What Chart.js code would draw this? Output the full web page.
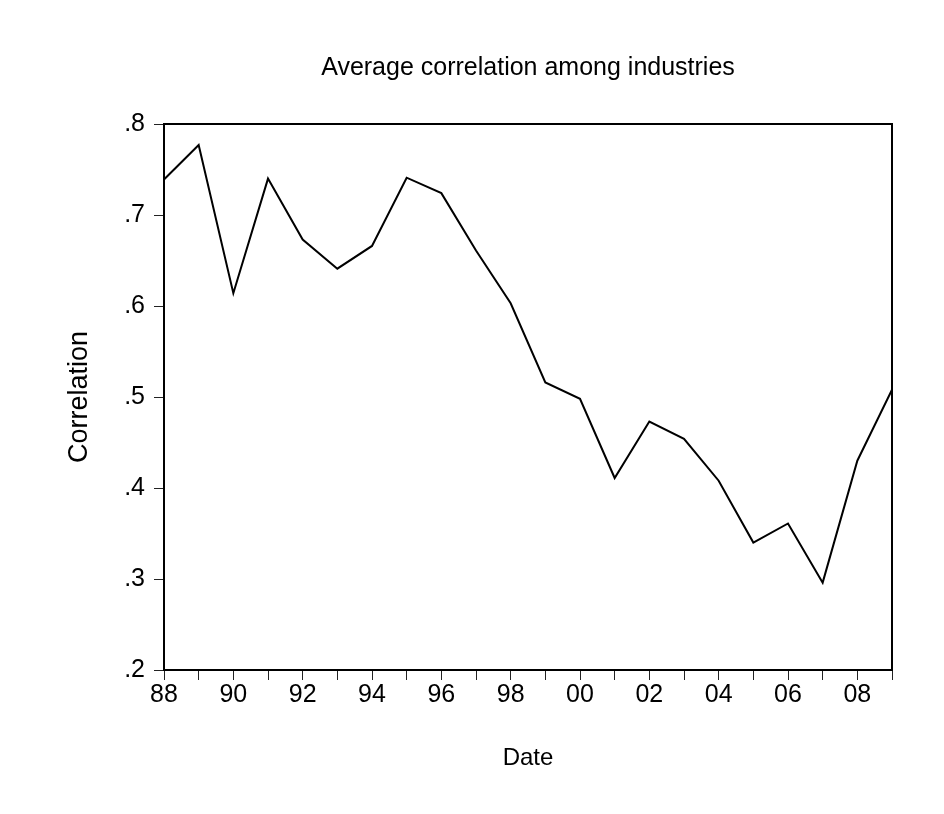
<!DOCTYPE html>
<html>
<head>
<meta charset="utf-8">
<title>Average correlation among industries</title>
<script src="https://cdn.jsdelivr.net/npm/chart.js@4.4.1/dist/chart.umd.min.js"></script>
<style>
  html, body { margin: 0; padding: 0; background: #fff; }
  #wrap { width: 944px; height: 814px; }
</style>
</head>
<body>
<div id="wrap"><canvas id="chart" width="944" height="814"></canvas></div>
<script>
// Yearly average correlation among industries, 1988-2009
const years = [1988, 1989, 1990, 1991, 1992, 1993, 1994, 1995, 1996, 1997, 1998,
               1999, 2000, 2001, 2002, 2003, 2004, 2005, 2006, 2007, 2008, 2009];
const correlation = [0.739, 0.777, 0.614, 0.740, 0.673, 0.641, 0.666, 0.741, 0.724, 0.661, 0.603,
                     0.516, 0.498, 0.411, 0.473, 0.454, 0.408, 0.340, 0.361, 0.296, 0.430, 0.508];
const yTickValues = [0.2, 0.3, 0.4, 0.5, 0.6, 0.7, 0.8];
const chartTitle = 'Average correlation among industries';
const xAxisTitle = 'Date';
const yAxisTitle = 'Correlation';

const FONT = "'Liberation Sans', Arial, Helvetica, sans-serif";

// Closed frame around the plotting area, and the title centred over it
const framePlugin = {
  id: 'frame',
  afterDatasetsDraw(chart) {
    const { ctx, chartArea: a } = chart;
    ctx.save();
    ctx.strokeStyle = '#000';
    ctx.lineWidth = 2;
    ctx.strokeRect(a.left, a.top, a.right - a.left, a.bottom - a.top);
    ctx.restore();
  },
  afterDraw(chart) {
    const { ctx, chartArea: a } = chart;
    ctx.save();
    ctx.fillStyle = '#000';
    ctx.font = '25px ' + FONT;
    ctx.textAlign = 'center';
    ctx.textBaseline = 'middle';
    ctx.fillText(chartTitle, (a.left + a.right) / 2, 68);
    ctx.restore();
  }
};

const points = years.map((yr, i) => ({ x: yr, y: correlation[i] }));

new Chart(document.getElementById('chart'), {
  type: 'line',
  data: {
    datasets: [{
      data: points,
      borderColor: '#000',
      borderWidth: 2,
      pointRadius: 0,
      tension: 0,
      fill: false
    }]
  },
  options: {
    responsive: false,
    animation: false,
    layout: { padding: { left: 0, right: 52, top: 124, bottom: 0 } },
    plugins: {
      legend: { display: false },
      tooltip: { enabled: false },
      title: { display: false }
    },
    scales: {
      x: {
        type: 'linear',
        min: years[0],
        max: years[years.length - 1],
        border: { display: false },
        grid: { drawOnChartArea: false, drawTicks: true, tickLength: 10, tickColor: '#222', tickWidth: 1 },
        ticks: {
          stepSize: 1,
          autoSkip: false,
          maxRotation: 0,
          padding: 0,
          color: '#000',
          font: { family: FONT, size: 25, lineHeight: 1.2 },
          callback: v => (v % 2 === 0 ? String(v % 100).padStart(2, '0') : '')
        },
        title: {
          display: true,
          text: xAxisTitle,
          color: '#000',
          font: { family: FONT, size: 24, lineHeight: 1.2 },
          padding: { top: 0, bottom: 41 }
        },
        afterFit(scale) { scale.height = 144; }
      },
      y: {
        type: 'linear',
        min: yTickValues[0],
        max: yTickValues[yTickValues.length - 1],
        border: { display: false },
        grid: { drawOnChartArea: false, drawTicks: true, tickLength: 10, tickColor: '#222', tickWidth: 1 },
        afterBuildTicks(scale) { scale.ticks = yTickValues.map(v => ({ value: v })); },
        ticks: {
          padding: 9,
          color: '#000',
          font: { family: FONT, size: 25, lineHeight: 1.2 },
          callback: v => '.' + Math.round(v * 10)
        },
        title: {
          display: true,
          text: yAxisTitle,
          color: '#000',
          font: { family: FONT, size: 27, lineHeight: 1.2 },
          padding: { top: 63, bottom: 0 }
        },
        afterFit(scale) { scale.width = 164; }
      }
    }
  },
  plugins: [framePlugin]
});
</script>
</body>
</html>
